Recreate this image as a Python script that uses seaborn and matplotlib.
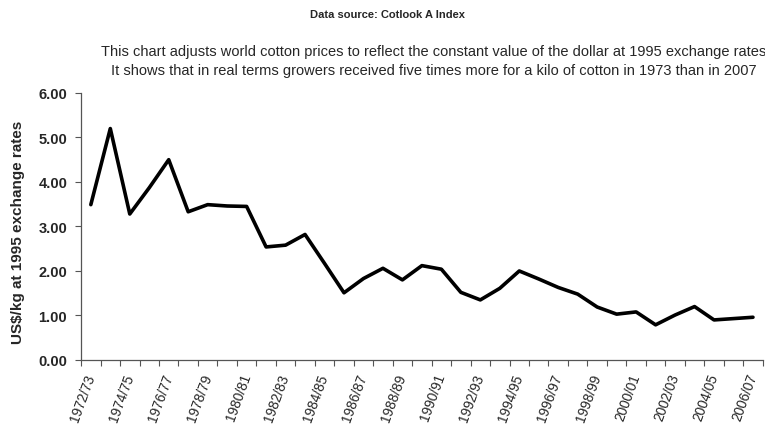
import numpy as np
import pandas as pd
import seaborn as sns
from matplotlib import pyplot as plt
from matplotlib.ticker import FixedLocator, FormatStrFormatter

seasons = ['1972/73', '1973/74', '1974/75', '1975/76', '1976/77', '1977/78', '1978/79',
           '1979/80', '1980/81', '1981/82', '1982/83', '1983/84', '1984/85', '1985/86',
           '1986/87', '1987/88', '1988/89', '1989/90', '1990/91', '1991/92', '1992/93',
           '1993/94', '1994/95', '1995/96', '1996/97', '1997/98', '1998/99', '1999/00',
           '2000/01', '2001/02', '2002/03', '2003/04', '2004/05', '2005/06', '2006/07']
prices = [3.49, 5.20, 3.28, 3.87, 4.50, 3.33, 3.49, 3.46, 3.45, 2.54, 2.58, 2.82,
          2.17, 1.51, 1.83, 2.06, 1.80, 2.12, 2.04, 1.52, 1.35, 1.61, 2.00, 1.82,
          1.63, 1.48, 1.19, 1.03, 1.08, 0.79, 1.01, 1.20, 0.90, 0.93, 0.96]

title = 'Data source: Cotlook A Index'
subtitle = ('This chart adjusts world cotton prices to reflect the constant value of the dollar at 1995 exchange rates\n'
            'It shows that in real terms growers received five times more for a kilo of cotton in 1973 than in 2007')
ylabel = 'US$/kg at 1995 exchange rates'

sns.set_style('white')
plt.rcParams['font.family'] = ['Liberation Sans', 'DejaVu Sans']

df = pd.DataFrame({'season': seasons, 'price': prices})
df['pos'] = np.arange(len(df))

fig = plt.figure(figsize=(7.65, 4.27), dpi=100)
ax = fig.add_axes([0.106, 0.1546, 0.891, 0.6254])
sns.lineplot(data=df, x='pos', y='price', color='black', linewidth=2.6, ax=ax)

n = len(seasons)
ax.set_xlim(-0.5, n - 0.5)
ax.set_ylim(0, 6)
ax.set_yticks(np.arange(0, 6.01, 1))
ax.yaxis.set_major_formatter(FormatStrFormatter('%.2f'))
ax.set_xticks(np.arange(0, n, 2))
ax.set_xticklabels(seasons[::2], rotation=70, ha='right', va='center',
                   rotation_mode='anchor', fontsize=9.8)
ax.xaxis.set_minor_locator(FixedLocator(np.arange(-0.5, n, 1)))
ax.tick_params(axis='x', which='major', length=0, pad=10)
ax.tick_params(axis='x', which='minor', length=4, width=0.8, color='#555555', direction='out', bottom=True)
ax.tick_params(axis='y', length=4, width=0.8, color='#555555', direction='out', left=True, labelsize=10.5, pad=6)
for lab in ax.get_yticklabels():
    lab.set_fontweight('bold')

ax.set_xlabel('')
ax.set_ylabel(ylabel, fontsize=11, fontweight='bold')
ax.yaxis.set_label_coords(-0.083, 0.48)
for s in ['top', 'right']:
    ax.spines[s].set_visible(False)
for s in ['left', 'bottom']:
    ax.spines[s].set_color('#555555')
    ax.spines[s].set_linewidth(0.9)

fig.text(0.506, 0.965, title, ha='center', va='center', fontsize=8, fontweight='bold')
fig.text(0.567, 0.857, subtitle, ha='center', va='center', fontsize=10.5, linespacing=1.45)

plt.savefig('out.png', dpi=100)
